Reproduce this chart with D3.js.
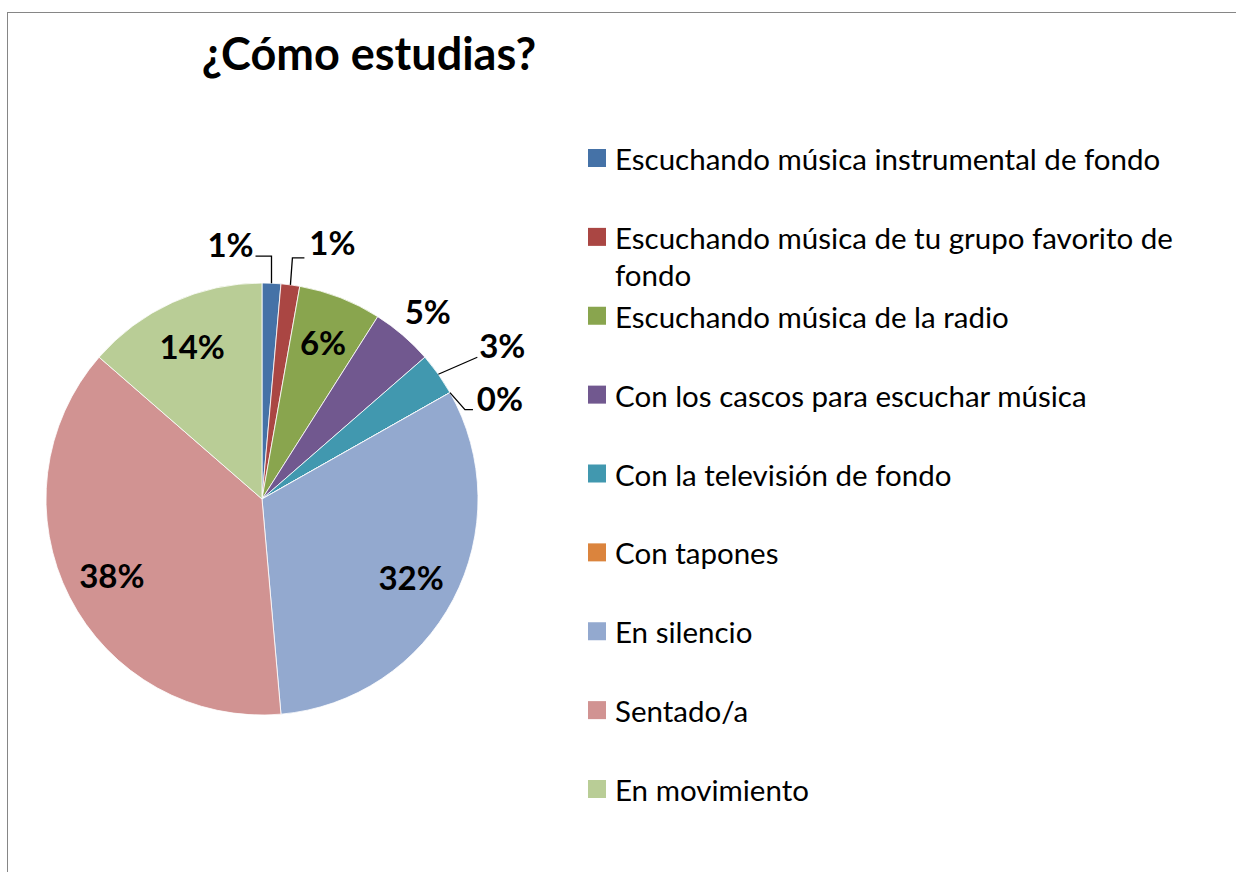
<!DOCTYPE html>
<html>
<head>
<meta charset="utf-8">
<script src="https://cdn.jsdelivr.net/npm/d3@7"></script>
<style>
  html, body { margin: 0; padding: 0; background: #fff; }
  svg { display: block; font-family: Lato, "Open Sans", sans-serif; }
</style>
</head>
<body>
<svg id="chart"></svg>
<script>
// datos de la encuesta (porcentajes)
const categories = [
  "Escuchando música instrumental de fondo",
  "Escuchando música de tu grupo favorito de fondo",
  "Escuchando música de la radio",
  "Con los cascos para escuchar música",
  "Con la televisión de fondo",
  "Con tapones",
  "En silencio",
  "Sentado/a",
  "En movimiento"
]
const values = [1.4, 1.4, 6.2, 4.6, 3.2, 0, 31.8, 37.8, 13.6]
const colorsList = ["#4572A7", "#AA4643", "#89A54E", "#71588F", "#4198AF", "#DB843D", "#93A9CF", "#D19392", "#B9CD96"]
const title = "¿Cómo estudias?"

// colocación de las etiquetas (desde el borde del sector)
// inside: dentro del sector; dx/dy: desplazamiento desde el punto del arco; leader: tipo de línea guía
const labelPlace = [
  { dx: -41, dy: -39, leader: "elbowLeft" },
  { dx: 42, dy: -43, leader: "elbowRight" },
  { inside: true },
  { dx: 25, dy: -24 },
  { dx: 64, dy: -29, leader: "straight" },
  { dx: 50, dy: 5, leader: "zero" },
  { inside: true },
  { inside: true },
  { inside: true }
]

const width = 1236, height = 872
const cx = 262, cy = 499, radius = 216

const svg = d3.select("#chart").attr("width", width).attr("height", height)

// marco gris del área del gráfico
svg.append("rect")
  .attr("x", 7.5).attr("y", 12.5)
  .attr("width", width + 20).attr("height", height + 20)
  .attr("fill", "#fff").attr("stroke", "#868686").attr("stroke-width", 1)

svg.append("text")
  .attr("x", 369).attr("y", 70)
  .attr("text-anchor", "middle")
  .attr("font-size", 45).attr("font-weight", "bold")
  .attr("fill", "#000")
  .text(title)

const color = d3.scaleOrdinal().domain(categories).range(colorsList)
const pie = d3.pie().sort(null).value(d => d.value)
const arcs = pie(categories.map((c, i) => ({ name: c, value: values[i] })))
const total = d3.sum(values)

const arc = d3.arc().innerRadius(0).outerRadius(radius)
const g = svg.append("g").attr("transform", `translate(${cx},${cy})`)

g.selectAll("path.slice")
  .data(arcs)
  .enter()
  .append("path")
  .attr("class", "slice")
  .attr("d", arc)
  .attr("fill", d => color(d.data.name))
  .attr("stroke", "#fff")
  .attr("stroke-width", 0.8)

const inArc = d3.arc().innerRadius(radius * 0.78).outerRadius(radius * 0.78)
const edgeArc = d3.arc().innerRadius(radius).outerRadius(radius)

const labels = g.append("g").attr("class", "labels")

arcs.forEach((d, i) => {
  const p = labelPlace[i]
  const txt = Math.round(d.data.value / total * 100) + "%"
  let lx, ly
  if (p.inside) {
    [lx, ly] = inArc.centroid(d)
  } else {
    const [ax, ay] = edgeArc.centroid(d)
    lx = ax + p.dx
    ly = ay + p.dy
    let pts = null
    if (p.leader === "elbowLeft") pts = [[ax, ay], [ax, ly + 12], [lx + 25, ly + 12]]
    if (p.leader === "elbowRight") pts = [[ax, ay], [ax + 2, ly + 16], [lx - 28, ly + 16]]
    if (p.leader === "straight") pts = [[ax, ay], [lx - 25, ly + 12]]
    if (p.leader === "zero") pts = [[ax, ay], [lx - 35, ly + 12], [lx - 27, ly + 12]]
    if (pts) {
      labels.append("path")
        .attr("d", d3.line()(pts))
        .attr("fill", "none")
        .attr("stroke", "#000")
        .attr("stroke-width", 1.3)
    }
  }
  labels.append("text")
    .attr("x", lx).attr("y", ly)
    .attr("text-anchor", "middle")
    .attr("dominant-baseline", "central")
    .attr("font-size", 33).attr("font-weight", "bold")
    .attr("fill", "#000")
    .text(txt)
})

// leyenda
const legend = svg.append("g").attr("class", "legend")
const legendY = d3.scalePoint().domain(categories).range([158, 789])
const maxTextW = 575

categories.forEach(c => {
  const y = legendY(c)
  legend.append("rect")
    .attr("x", 588).attr("y", y - 9)
    .attr("width", 18).attr("height", 18)
    .attr("fill", color(c))
  const t = legend.append("text")
    .attr("x", 615).attr("y", y)
    .attr("dominant-baseline", "central")
    .attr("font-size", 29.5)
    .attr("fill", "#000")
  // partir la línea si no cabe
  const words = c.split(" ")
  let line = []
  let tspan = t.append("tspan").attr("x", 615).attr("dy", 0)
  words.forEach(w => {
    line.push(w)
    tspan.text(line.join(" "))
    if (tspan.node().getComputedTextLength() > maxTextW && line.length > 1) {
      line.pop()
      tspan.text(line.join(" "))
      line = [w]
      tspan = t.append("tspan").attr("x", 615).attr("dy", 37).text(w)
    }
  })
})
</script>
</body>
</html>
